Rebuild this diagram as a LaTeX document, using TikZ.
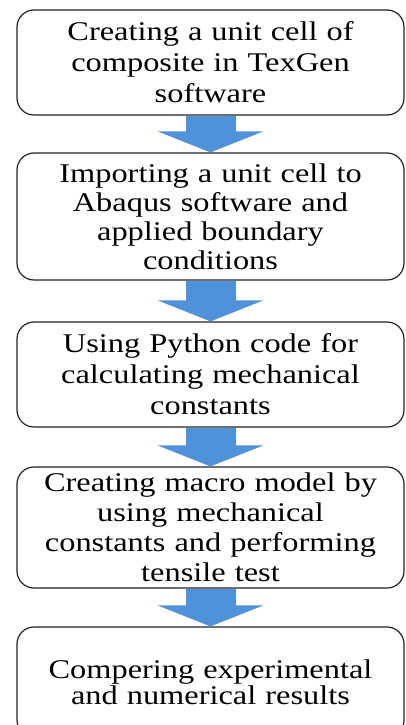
\documentclass[tikz,border=0pt]{standalone}
\usepackage{fontspec}
\setmainfont{Liberation Serif}[FakeStretch=1.2]
\usetikzlibrary{arrows.meta}
\definecolor{arrowblue}{RGB}{79,146,218}
\definecolor{boxline}{RGB}{35,35,35}
\begin{document}
\begin{tikzpicture}[x=1pt, y=-1pt,
	stepbox/.style={draw=boxline, line width=1.2pt, rounded corners=17pt, fill=white,
		minimum width=387pt, text width=375pt, inner sep=0pt, align=center,
		font=\fontsize{27}{31}\selectfont},
	flowarrow/.style={draw=arrowblue, line width=50pt,
		-{Triangle[width=105pt, length=21pt]}, shorten <=0.6pt}]
	\useasboundingbox (0,0) rectangle (406,725);
	\clip (0,0) rectangle (406,725);
	
	% steps
	\node[stepbox, minimum height=105pt] (texgen) at (210.5,62.5)
		{Creating a unit cell of\\ composite in TexGen\\ software};
	\node[stepbox, minimum height=127pt, font=\fontsize{27}{29}\selectfont] (abaqus) at (210.5,216.5)
		{Importing a unit cell to\\ Abaqus software and\\ applied boundary\\ conditions};
	\node[stepbox, minimum height=105pt] (python) at (210.5,374.5)
		{Using Python code for\\ calculating mechanical\\ constants};
	\node[stepbox, minimum height=121pt, font=\fontsize{27}{30}\selectfont] (macro) at (210.5,527.5)
		{Creating macro model by\\ using mechanical\\ constants and performing\\ tensile test};
	\node[stepbox, minimum height=110pt, font=\fontsize{27}{26}\selectfont] (compare) at (210.5,682)
		{Compering experimental\\ and numerical results};
	
	% block arrows
	\draw[flowarrow] (texgen.south) -- (abaqus.north);
	\draw[flowarrow] (abaqus.south) -- (python.north);
	\draw[flowarrow] (python.south) -- (macro.north);
	\draw[flowarrow] (macro.south) -- (compare.north);
\end{tikzpicture}
\end{document}
